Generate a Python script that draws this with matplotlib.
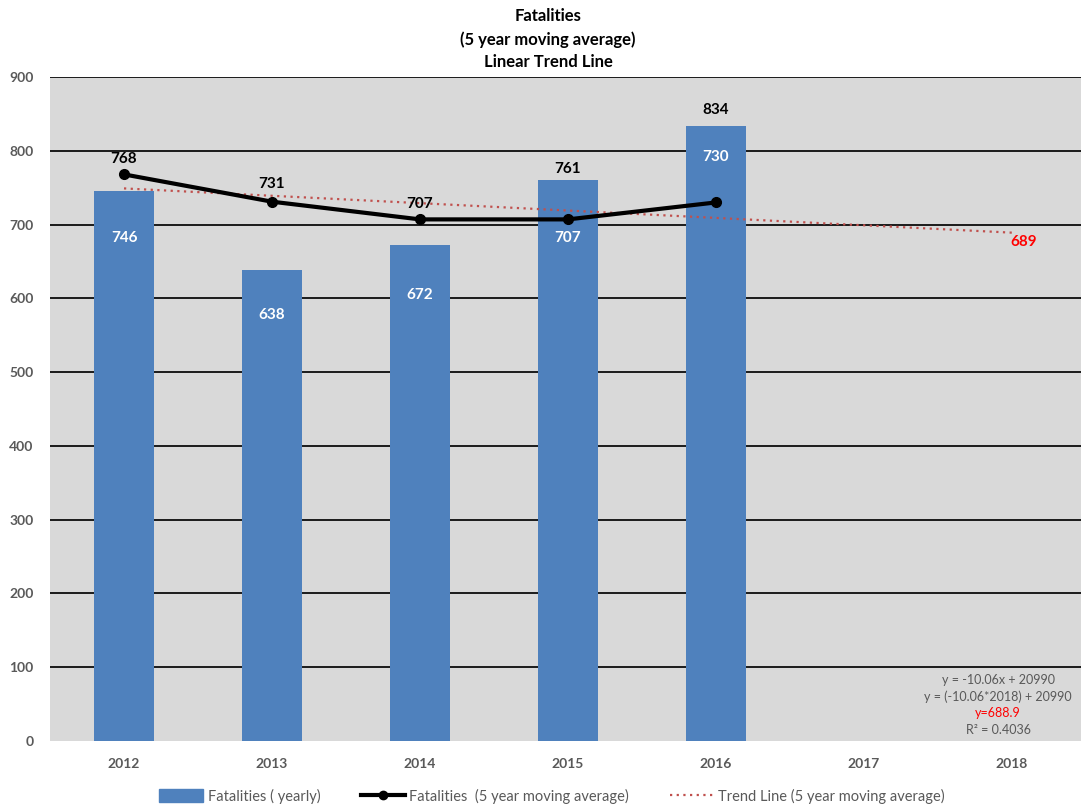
import matplotlib
matplotlib.use("Agg")
import matplotlib.pyplot as plt
from matplotlib.lines import Line2D
from matplotlib.patches import Patch

years = ["2012", "2013", "2014", "2015", "2016", "2017", "2018"]
yearly = [746, 638, 672, 761, 834]
moving_avg = [768, 731, 707, 707, 730]
trend_years_idx = [0, 6]
trend_vals = [749, 689]
yticks = [0, 100, 200, 300, 400, 500, 600, 700, 800, 900]

FONT = ["Lato", "DejaVu Sans"]
plt.rcParams["font.family"] = FONT

W, H = 1081, 809
fig = plt.figure(figsize=(W / 100, H / 100), dpi=100)
ax = fig.add_axes([50 / W, (H - 741) / H, 1 - 50 / W, (741 - 77) / H])
ax.set_facecolor("#D9D9D9")

xb = list(range(len(yearly)))
ax.bar(xb, yearly, width=0.4, color="#4F81BD", zorder=2)
ax.plot(xb, moving_avg, color="black", lw=3, marker="o", ms=7, zorder=4)
ax.plot(trend_years_idx, trend_vals, color="#C0504D", lw=1.6, ls=(0, (1, 2)), zorder=3)

ax.set_xlim(-0.5, (1081 - 50) / 148 - 0.5)
ax.set_ylim(0, 900)
ax.set_yticks(yticks)
ax.set_xticks(range(len(years)))
ax.set_xticklabels(years)
for y in yticks[1:]:
    ax.axhline(y, color="#1a1a1a", lw=1.4, zorder=1)
for s in ax.spines.values():
    s.set_visible(False)
ax.tick_params(length=0, colors="#595959", labelsize=10)
for lab in ax.get_xticklabels() + ax.get_yticklabels():
    lab.set_fontweight("bold")
ax.tick_params(axis="x", pad=12)
ax.tick_params(axis="y", pad=12)

def lab(x, y, text, dy, color, dx=0):
    ax.annotate(text, (x, y), xytext=(dx, dy), textcoords="offset pixels",
                ha="center", va="center", fontsize=11, fontweight="bold",
                color=color, zorder=6)

# bar labels
bar_offsets = [-47, -45, -50, 11, 16]
for i, v in enumerate(yearly):
    c = "white" if bar_offsets[i] < 0 else "black"
    lab(i, v, str(v), bar_offsets[i], c)
# moving average labels
ma_offsets = [15, 18, 15, -19, 45]
ma_colors = ["black", "black", "black", "white", "white"]
for i, v in enumerate(moving_avg):
    lab(i, v, str(v), ma_offsets[i], ma_colors[i])
lab(trend_years_idx[1], trend_vals[1], str(trend_vals[1]), -9, "#FF0000", dx=12)

# equation box
eq_x = (998 - 50) / 148 - 0.5
eq_lines = [("y = -10.06x + 20990", "#595959", 680),
            ("y = (-10.06*2018) + 20990", "#595959", 697),
            ("y=688.9", "#FF0000", 713),
            ("R² = 0.4036", "#595959", 730)]
for t, c, ypix in eq_lines:
    yv = (741 - ypix) / (741 - 77) * 900
    ax.text(eq_x, yv, t, ha="center", va="center", fontsize=9, color=c, zorder=6)

for t, ypix in [("Fatalities", 16), ("(5 year moving average)", 40), ("Linear Trend Line", 62)]:
    fig.text(548 / W, 1 - ypix / H, t, ha="center", va="center",
             fontsize=12, fontweight="bold")

handles = [Patch(color="#4F81BD"),
           Line2D([], [], color="black", lw=3, marker="o", ms=6),
           Line2D([], [], color="#C0504D", lw=1.6, ls=(0, (1, 2)))]
labels = ["Fatalities ( yearly)", "Fatalities  (5 year moving average)",
          "Trend Line (5 year moving average)"]
fig.legend(handles, labels, loc="center", bbox_to_anchor=(552 / W, 1 - 796 / H),
           ncol=3, frameon=False, fontsize=10.5, labelcolor="#595959",
           handlelength=3.0, handletextpad=0.3, columnspacing=2.8,
           handleheight=0.9)

fig.savefig("out.png", dpi=100)
